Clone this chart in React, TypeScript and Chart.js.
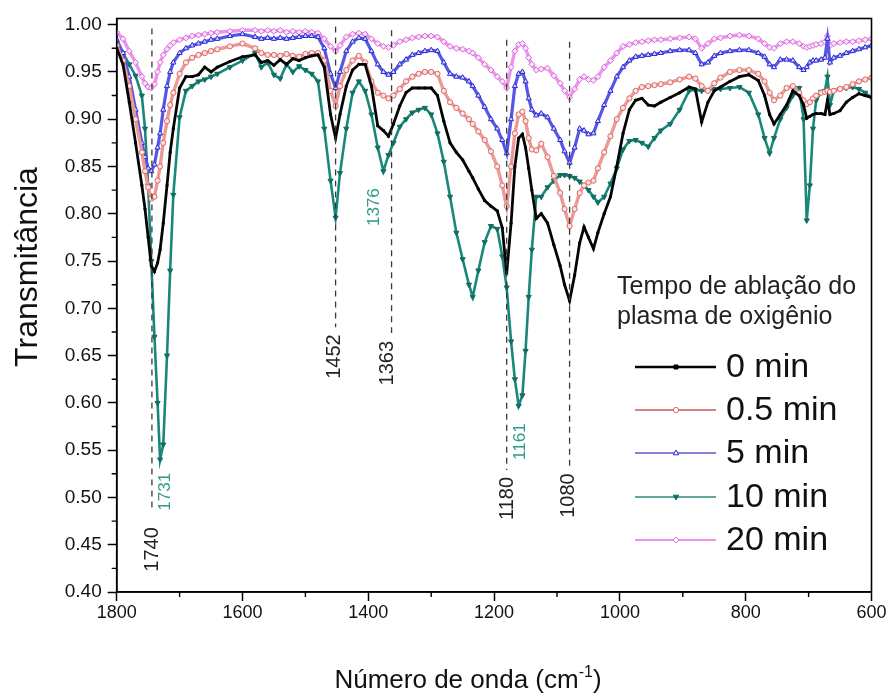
import { useEffect, useRef } from "react";
import { Chart, registerables } from "chart.js";

Chart.register(...registerables);

// wavenumber grid (cm-1), shared by every series
const wavenumbers = [
  1800, 1790, 1780, 1770, 1760, 1755, 1750, 1745, 1740, 1735,
  1731, 1726, 1720, 1715, 1710, 1700, 1690, 1680, 1670, 1660,
  1650, 1640, 1620, 1600, 1580, 1570, 1560, 1550, 1540, 1530,
  1520, 1510, 1500, 1490, 1480, 1470, 1460, 1452, 1445, 1435,
  1425, 1415, 1405, 1395, 1385, 1376, 1368, 1360, 1350, 1340,
  1330, 1320, 1310, 1300, 1290, 1280, 1270, 1260, 1250, 1240,
  1234, 1225, 1215, 1205, 1195, 1187, 1180, 1173, 1167, 1161,
  1155, 1150, 1145, 1140, 1133, 1125, 1115, 1105, 1095, 1088,
  1080, 1072, 1064, 1057, 1050, 1042, 1035, 1025, 1015, 1005,
  995, 985, 975, 965, 955, 945, 935, 920, 905, 890,
  880, 870, 860, 850, 840, 825, 810, 795, 780, 770,
  762, 755, 745, 735, 725, 715, 708, 703, 698, 693,
  688, 680, 674, 670, 666, 660, 650, 640, 630, 620,
  610, 600,
];

const min0 = [
  0.975, 0.958, 0.918, 0.875, 0.83, 0.805, 0.775, 0.745, 0.739, 0.748,
  0.762, 0.79, 0.83, 0.865, 0.89, 0.933, 0.945, 0.945, 0.947, 0.955,
  0.95, 0.955, 0.961, 0.966, 0.968, 0.96, 0.962, 0.957, 0.963, 0.958,
  0.964, 0.962, 0.965, 0.967, 0.968, 0.955, 0.905, 0.88, 0.905, 0.935,
  0.952, 0.958, 0.958, 0.935, 0.893, 0.888, 0.882, 0.895, 0.914, 0.928,
  0.933, 0.933, 0.933, 0.933, 0.925, 0.898, 0.875, 0.865, 0.857, 0.845,
  0.838, 0.826, 0.814, 0.808, 0.803, 0.785, 0.737, 0.79, 0.85, 0.88,
  0.884, 0.87, 0.848, 0.825, 0.795, 0.8, 0.79, 0.767, 0.745, 0.725,
  0.708, 0.735, 0.769, 0.786, 0.775, 0.763, 0.78, 0.8, 0.818, 0.85,
  0.885, 0.91, 0.92, 0.922, 0.915, 0.914, 0.918, 0.923, 0.928, 0.934,
  0.932, 0.897, 0.918, 0.93, 0.934, 0.94, 0.945, 0.947, 0.941, 0.925,
  0.905, 0.895, 0.905, 0.915, 0.93, 0.925, 0.915, 0.901, 0.903, 0.905,
  0.906, 0.906, 0.905, 0.92, 0.905, 0.906, 0.909, 0.918, 0.923, 0.927,
  0.925, 0.923,
];

const min05 = [
  0.978, 0.962, 0.935, 0.9, 0.865, 0.845, 0.828, 0.816, 0.818, 0.835,
  0.85, 0.875, 0.898, 0.915, 0.928, 0.948, 0.96, 0.965, 0.968, 0.97,
  0.972, 0.974, 0.977, 0.98, 0.975, 0.97, 0.968, 0.968, 0.967, 0.969,
  0.967, 0.966, 0.969, 0.97, 0.97, 0.962, 0.93, 0.914, 0.935, 0.952,
  0.962, 0.967, 0.96, 0.94, 0.928, 0.925, 0.922, 0.925, 0.932, 0.94,
  0.945, 0.948, 0.95, 0.95, 0.948, 0.93, 0.918, 0.912, 0.906, 0.9,
  0.895, 0.887, 0.878, 0.866, 0.85, 0.83, 0.808, 0.85, 0.885, 0.905,
  0.908, 0.898, 0.88, 0.868, 0.867, 0.874, 0.86, 0.84, 0.822, 0.805,
  0.787, 0.805, 0.822, 0.83, 0.833, 0.835, 0.848, 0.865, 0.882, 0.9,
  0.912, 0.922, 0.93, 0.934, 0.935, 0.936, 0.937, 0.939, 0.942, 0.945,
  0.943, 0.935, 0.93, 0.938, 0.944, 0.95, 0.952, 0.952, 0.948, 0.94,
  0.928, 0.92, 0.925, 0.933, 0.935, 0.928, 0.92, 0.916, 0.918, 0.922,
  0.925, 0.928, 0.929, 0.93, 0.929, 0.93, 0.932, 0.934, 0.937, 0.94,
  0.942, 0.944,
];

const min5 = [
  0.984, 0.97, 0.945, 0.91, 0.875, 0.86, 0.848, 0.845, 0.852, 0.87,
  0.885, 0.91, 0.935, 0.95, 0.96, 0.97, 0.975, 0.978, 0.98, 0.982,
  0.984, 0.985, 0.988, 0.99, 0.987, 0.985, 0.986, 0.985, 0.986, 0.985,
  0.986, 0.987, 0.988, 0.988, 0.987, 0.975, 0.948, 0.933, 0.95, 0.972,
  0.982, 0.986, 0.985, 0.972, 0.958, 0.95, 0.947, 0.95, 0.958, 0.963,
  0.968, 0.97, 0.972, 0.973, 0.972, 0.96, 0.948, 0.945, 0.944, 0.94,
  0.935, 0.925, 0.913, 0.9, 0.89, 0.878, 0.864, 0.9, 0.935, 0.948,
  0.95, 0.94, 0.922, 0.91, 0.904, 0.906, 0.902, 0.89, 0.878, 0.866,
  0.854, 0.87, 0.89, 0.888, 0.884, 0.885, 0.898, 0.915, 0.93, 0.945,
  0.955, 0.962, 0.966, 0.967, 0.968, 0.969, 0.97, 0.972, 0.973, 0.973,
  0.97, 0.958, 0.96, 0.967, 0.97, 0.972, 0.973, 0.973, 0.97, 0.966,
  0.958, 0.955, 0.963, 0.963, 0.962, 0.955, 0.952, 0.955, 0.96, 0.962,
  0.962, 0.963, 0.965, 0.985, 0.96, 0.965, 0.967, 0.97, 0.972, 0.974,
  0.976, 0.978,
];

const min10 = [
  0.98, 0.97, 0.958, 0.946, 0.925, 0.89, 0.83, 0.75, 0.67, 0.6,
  0.54, 0.556, 0.65, 0.74, 0.82, 0.902, 0.93, 0.935, 0.94, 0.942,
  0.945, 0.948, 0.955, 0.962, 0.97, 0.955, 0.96, 0.947, 0.943, 0.958,
  0.95, 0.956, 0.952, 0.948, 0.94, 0.89, 0.835, 0.796, 0.843, 0.89,
  0.928, 0.94, 0.93, 0.905, 0.87, 0.845, 0.862, 0.875, 0.892, 0.9,
  0.907, 0.91, 0.912, 0.905, 0.885, 0.855, 0.818, 0.78, 0.752, 0.725,
  0.712, 0.74, 0.77, 0.787, 0.784, 0.755, 0.722, 0.665, 0.625, 0.597,
  0.608, 0.655, 0.712, 0.762, 0.818, 0.818, 0.828, 0.835, 0.841, 0.841,
  0.84, 0.838, 0.834, 0.83, 0.825, 0.818, 0.812, 0.818, 0.832, 0.848,
  0.868, 0.877, 0.878, 0.875, 0.871, 0.88, 0.888, 0.895, 0.91, 0.93,
  0.931, 0.93, 0.931, 0.932, 0.932, 0.933, 0.934, 0.928, 0.905, 0.88,
  0.864, 0.88, 0.9, 0.912, 0.925, 0.933, 0.9, 0.793, 0.83, 0.89,
  0.92, 0.929, 0.93, 0.945, 0.915, 0.93, 0.932, 0.933, 0.934, 0.932,
  0.928, 0.923,
];

const min20 = [
  0.992, 0.985, 0.972, 0.96, 0.945, 0.938, 0.934, 0.933, 0.937, 0.95,
  0.96, 0.968, 0.974, 0.978, 0.981, 0.984, 0.986, 0.988, 0.989, 0.99,
  0.991, 0.992, 0.993, 0.994, 0.994, 0.993, 0.994, 0.993, 0.994, 0.992,
  0.993, 0.992, 0.993, 0.992, 0.991, 0.985, 0.977, 0.972, 0.978, 0.987,
  0.99, 0.991, 0.99, 0.985, 0.98, 0.977, 0.976, 0.978, 0.982, 0.984,
  0.986, 0.987, 0.988, 0.988, 0.987, 0.982, 0.977, 0.975, 0.974, 0.972,
  0.97, 0.965, 0.958, 0.952, 0.945, 0.94, 0.933, 0.955, 0.972, 0.979,
  0.98, 0.975, 0.965, 0.958, 0.952, 0.953, 0.954, 0.946, 0.938, 0.93,
  0.923, 0.932, 0.942, 0.945, 0.942, 0.941, 0.945, 0.955, 0.962, 0.97,
  0.977, 0.979, 0.981, 0.982, 0.983, 0.984, 0.984, 0.985, 0.986, 0.987,
  0.985, 0.975, 0.98, 0.985, 0.986, 0.988, 0.989, 0.988, 0.985, 0.98,
  0.976, 0.975, 0.98, 0.982, 0.982, 0.98, 0.977, 0.976, 0.977, 0.978,
  0.979, 0.98, 0.982, 0.988, 0.978, 0.98, 0.981, 0.982, 0.982, 0.983,
  0.984, 0.985,
];

const seriesLabels = ["0 min", "0.5 min", "5 min", "10 min", "20 min"];
const legendLineColors = ["#050505", "#c85a58", "#5a5ad0", "#2f8a7e", "#e070e0"];
const xTickValues = [1800, 1600, 1400, 1200, 1000, 800, 600];
const xMinorTicks = [1700, 1500, 1300, 1100, 900, 700];
const yTickValues = [0.4, 0.45, 0.5, 0.55, 0.6, 0.65, 0.7, 0.75, 0.8, 0.85, 0.9, 0.95, 1.0];
const yMinorTicks = [0.425, 0.475, 0.525, 0.575, 0.625, 0.675, 0.725, 0.775, 0.825, 0.875, 0.925, 0.975];

// dashed peak markers: line position, label, where the dash starts / ends, label centre
const peakLinePos = [1744, 1452, 1363, 1180, 1080];
const peakLineText = ["1740", "1452", "1363", "1180", "1080"];
const peakLineTop = [0.996, 0.998, 0.994, 0.984, 0.982];
const peakLineEnd = [0.487, 0.68, 0.674, 0.529, 0.531];
const peakLabelAt = [0.445, 0.649, 0.642, 0.499, 0.502];
const peakLabelPos = [1743, 1454, 1370, 1178, 1081];

// peak labels of the 10 min curve
const tealPeakText = ["1731", "1376", "1161"];
const tealPeakPos = [1722, 1391, 1158];
const tealPeakAt = [0.506, 0.807, 0.559];

const FONT = "'Liberation Sans', Arial, Helvetica, sans-serif";

function drawMarker(ctx: any, ds: any, cx: number, cy: number) {
  const r = Math.max(ds.pointRadius, 2.5);
  ctx.save();
  ctx.translate(cx, cy);
  ctx.rotate(((ds.pointRotation || 0) * Math.PI) / 180);
  ctx.beginPath();
  if (ds.pointStyle === "circle") {
    ctx.arc(0, 0, r, 0, Math.PI * 2);
  } else if (ds.pointStyle === "triangle") {
    ctx.moveTo(0, -r);
    ctx.lineTo(r * 0.9, r * 0.6);
    ctx.lineTo(-r * 0.9, r * 0.6);
    ctx.closePath();
  } else if (ds.pointStyle === "rectRot") {
    ctx.moveTo(0, -r);
    ctx.lineTo(r, 0);
    ctx.lineTo(0, r);
    ctx.lineTo(-r, 0);
    ctx.closePath();
  } else {
    ctx.rect(-r * 0.8, -r * 0.8, r * 1.6, r * 1.6);
  }
  ctx.fillStyle = ds.pointStyle === "rect" || ds.pointRotation ? ds.pointBorderColor : "#fff";
  ctx.fill();
  ctx.lineWidth = 1;
  ctx.strokeStyle = ds.pointBorderColor;
  ctx.stroke();
  ctx.restore();
}

function rotatedText(ctx: any, text: string, cx: number, cy: number, size: number, color: string) {
  ctx.save();
  ctx.translate(cx, cy);
  ctx.rotate(-Math.PI / 2);
  ctx.font = `${size}px ${FONT}`;
  ctx.fillStyle = color;
  ctx.textAlign = "center";
  ctx.textBaseline = "middle";
  ctx.fillText(text, 0, 0);
  ctx.restore();
}

const decorPlugin = {
  id: "decor",
  afterDraw(chart: any) {
    const { ctx, chartArea } = chart;
    const xs = chart.scales.x;
    const ys = chart.scales.y;
    ctx.save();

    // box frame
    ctx.strokeStyle = "#000";
    ctx.lineWidth = 1.6;
    ctx.strokeRect(chartArea.left, chartArea.top, chartArea.right - chartArea.left, chartArea.bottom - chartArea.top);

    // minor ticks
    ctx.lineWidth = 1.4;
    ctx.beginPath();
    xMinorTicks.forEach((v) => {
      const px = xs.getPixelForValue(v);
      ctx.moveTo(px, chartArea.bottom);
      ctx.lineTo(px, chartArea.bottom + 5);
    });
    yMinorTicks.forEach((v) => {
      const py = ys.getPixelForValue(v);
      ctx.moveTo(chartArea.left - 5, py);
      ctx.lineTo(chartArea.left, py);
    });
    ctx.stroke();

    // dashed peak lines
    ctx.setLineDash([6, 5]);
    ctx.strokeStyle = "#3a3a3a";
    ctx.lineWidth = 1.3;
    peakLinePos.forEach((w, i) => {
      const px = xs.getPixelForValue(w);
      ctx.beginPath();
      ctx.moveTo(px, ys.getPixelForValue(peakLineTop[i]));
      ctx.lineTo(px, ys.getPixelForValue(peakLineEnd[i]));
      ctx.stroke();
    });
    ctx.setLineDash([]);

    peakLineText.forEach((t, i) => {
      rotatedText(ctx, t, xs.getPixelForValue(peakLabelPos[i]), ys.getPixelForValue(peakLabelAt[i]), 20, "#222");
    });
    tealPeakText.forEach((t, i) => {
      rotatedText(ctx, t, xs.getPixelForValue(tealPeakPos[i]), ys.getPixelForValue(tealPeakAt[i]), 17, "#2f9a8c");
    });

    // axis titles
    rotatedText(ctx, "Transmitância", 28, 267, 32, "#111");
    const main1 = "Número de onda (cm";
    const sup = "-1";
    const main2 = ")";
    ctx.textBaseline = "alphabetic";
    ctx.textAlign = "left";
    ctx.fillStyle = "#111";
    ctx.font = `26px ${FONT}`;
    const w1 = ctx.measureText(main1).width;
    const w3 = ctx.measureText(main2).width;
    ctx.font = `16px ${FONT}`;
    const w2 = ctx.measureText(sup).width;
    const startX = 468 - (w1 + w2 + w3) / 2;
    const baseY = 688;
    ctx.font = `26px ${FONT}`;
    ctx.fillText(main1, startX, baseY);
    ctx.font = `16px ${FONT}`;
    ctx.fillText(sup, startX + w1, baseY - 11);
    ctx.font = `26px ${FONT}`;
    ctx.fillText(main2, startX + w1 + w2, baseY);

    // legend
    ctx.font = `25px ${FONT}`;
    ctx.fillStyle = "#222";
    ctx.textBaseline = "middle";
    ctx.fillText("Tempo de ablação do", 617, 287);
    ctx.fillText("plasma de oxigênio", 617, 317);
    const rows = [367, 410, 453, 497, 540];
    chart.data.datasets.forEach((ds: any, i: number) => {
      const cy = rows[i];
      ctx.beginPath();
      ctx.strokeStyle = legendLineColors[i];
      ctx.lineWidth = i === 0 ? 2.6 : 1.4;
      ctx.moveTo(635, cy);
      ctx.lineTo(716, cy);
      ctx.stroke();
      drawMarker(ctx, ds, 676, cy);
      ctx.font = `34px ${FONT}`;
      ctx.fillStyle = "#111";
      ctx.textBaseline = "middle";
      ctx.fillText(seriesLabels[i], 726, cy + 1);
    });

    ctx.restore();
  },
};

function toPoints(values: number[]) {
  return wavenumbers.map((w, i) => ({ x: w, y: values[i] }));
}

export default function App() {
  const canvasRef = useRef<HTMLCanvasElement>(null);

  useEffect(() => {
    const ctx = canvasRef.current?.getContext("2d");
    if (!ctx) return;

    const chart = new Chart(ctx, {
      type: "line",
      data: {
        datasets: [
          {
            label: seriesLabels[0],
            data: toPoints(min0),
            borderColor: "#050505",
            borderWidth: 2.8,
            pointStyle: "rect",
            pointRadius: 1.4,
            pointBackgroundColor: "#000",
            pointBorderColor: "#000",
            pointBorderWidth: 1,
          },
          {
            label: seriesLabels[1],
            data: toPoints(min05),
            borderColor: "#eb9a96",
            borderWidth: 3.4,
            pointStyle: "circle",
            pointRadius: 2.6,
            pointBackgroundColor: "#fbe4e3",
            pointBorderColor: "#dc6662",
            pointBorderWidth: 1,
          },
          {
            label: seriesLabels[2],
            data: toPoints(min5),
            borderColor: "#5656e4",
            borderWidth: 3.2,
            pointStyle: "triangle",
            pointRadius: 3,
            pointBackgroundColor: "#d4d4ff",
            pointBorderColor: "#2a2ad2",
            pointBorderWidth: 1,
          },
          {
            label: seriesLabels[3],
            data: toPoints(min10),
            borderColor: "#19877a",
            borderWidth: 2.6,
            pointStyle: "triangle",
            pointRotation: 180,
            pointRadius: 3,
            pointBackgroundColor: "#117063",
            pointBorderColor: "#117063",
            pointBorderWidth: 1,
          },
          {
            label: seriesLabels[4],
            data: toPoints(min20),
            borderColor: "#eb94eb",
            borderWidth: 3.4,
            pointStyle: "rectRot",
            pointRadius: 3,
            pointBackgroundColor: "#fbe3fb",
            pointBorderColor: "#d866d8",
            pointBorderWidth: 1,
          },
        ],
      },
      options: {
        responsive: false,
        animation: false,
        events: [],
        layout: { padding: { left: 9, right: 18.5, top: 18.5, bottom: 2 } },
        plugins: {
          legend: { display: false },
          tooltip: { enabled: false },
        },
        scales: {
          x: {
            type: "linear",
            reverse: true,
            min: 600,
            max: 1800,
            afterBuildTicks: (axis: any) => {
              axis.ticks = xTickValues.map((v) => ({ value: v }));
            },
            afterFit: (axis: any) => {
              axis.height = 102;
            },
            grid: {
              drawOnChartArea: false,
              drawTicks: true,
              tickLength: 9,
              tickWidth: 1.5,
              tickColor: "#000",
            },
            border: { display: true, color: "#000", width: 1.6 },
            ticks: {
              color: "#111",
              padding: 1,
              maxRotation: 0,
              font: { size: 18, family: FONT },
              callback: (v: any) => String(v),
            },
          },
          y: {
            type: "linear",
            min: 0.4,
            max: 1.0065,
            afterBuildTicks: (axis: any) => {
              axis.ticks = yTickValues.map((v) => ({ value: v }));
            },
            afterFit: (axis: any) => {
              axis.width = 107.7;
            },
            grid: {
              drawOnChartArea: false,
              drawTicks: true,
              tickLength: 9,
              tickWidth: 1.5,
              tickColor: "#000",
            },
            border: { display: true, color: "#000", width: 1.6 },
            ticks: {
              color: "#111",
              padding: 6,
              font: { size: 19, family: FONT },
              callback: (v: any) => Number(v).toFixed(2),
            },
          },
        },
      },
      plugins: [decorPlugin],
    } as any);

    return () => {
      chart.destroy();
    };
  }, []);

  return (
    <div style={{ position: "fixed", left: 0, top: 0, width: 890, height: 696, background: "#fff" }}>
      <canvas ref={canvasRef} width={890} height={696} style={{ width: 890, height: 696, display: "block" }} />
    </div>
  );
}
